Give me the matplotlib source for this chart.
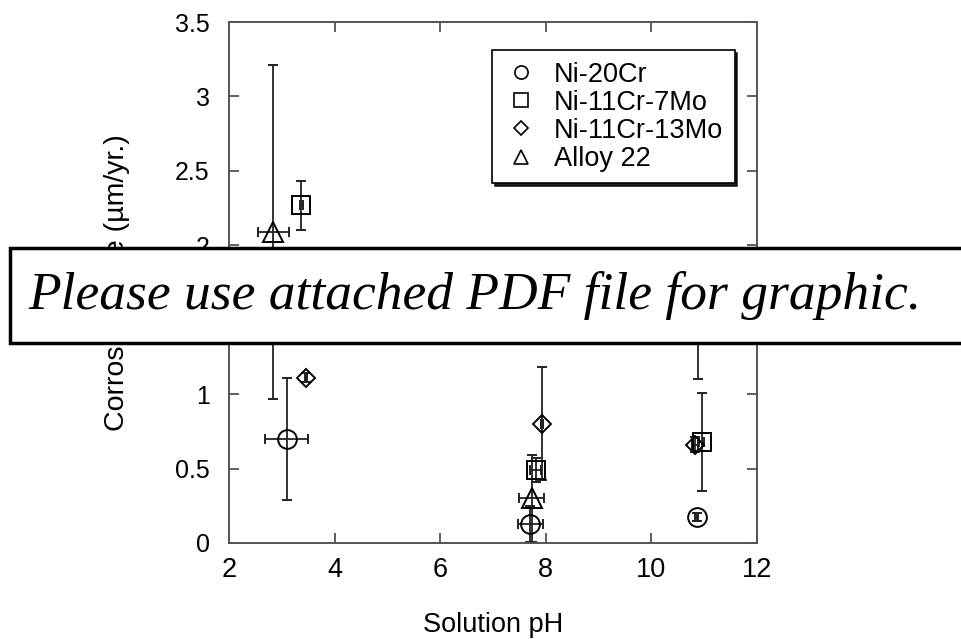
import matplotlib
import matplotlib.pyplot as plt
from matplotlib.lines import Line2D
from matplotlib.patches import Rectangle

matplotlib.use("Agg")

plt.rcParams["font.family"] = ["Liberation Sans", "DejaVu Sans"]

# Corrosion rate vs. solution pH, one set of arrays per alloy
ni20cr_ph = [3.09, 7.71, 10.86]
ni20cr_ph_err = [0.41, 0.24, 0.03]
ni20cr_rate = [0.70, 0.13, 0.175]
ni20cr_rate_err = [0.41, 0.12, 0.025]

ni11cr7mo_ph = [3.37, 7.81, 10.95]
ni11cr7mo_ph_err = [0.03, 0.10, 0.04]
ni11cr7mo_rate = [2.27, 0.49, 0.68]
ni11cr7mo_rate_err = [0.165, 0.08, 0.33]

ni11cr13mo_ph = [3.45, 7.92, 10.83]
ni11cr13mo_ph_err = [0.02, 0.02, 0.06]
ni11cr13mo_rate = [1.11, 0.80, 0.66]
ni11cr13mo_rate_err = [0.03, 0.38, 0.05]

alloy22_ph = [2.84, 7.73, 10.88]
alloy22_ph_err = [0.30, 0.24, 0.05]
alloy22_rate = [2.09, 0.30, 1.50]
alloy22_rate_err = [1.12, 0.29, 0.40]

series_names = ["Ni-20Cr", "Ni-11Cr-7Mo", "Ni-11Cr-13Mo", "Alloy 22"]
x_ticks = [2, 4, 6, 8, 10, 12]
y_ticks = [0, 0.5, 1, 1.5, 2, 2.5, 3, 3.5]
y_tick_labels = ["0", "0.5", "1", "1.5", "2", "2.5", "3", "3.5"]

W, H = 961, 639
fig = plt.figure(figsize=(W / 100, H / 100), dpi=100)
ax = fig.add_axes([229 / W, 1 - 543 / H, (757 - 229) / W, (543 - 22) / H])

series = [
    (ni20cr_ph, ni20cr_ph_err, ni20cr_rate, ni20cr_rate_err, "o", 13.5),
    (ni11cr7mo_ph, ni11cr7mo_ph_err, ni11cr7mo_rate, ni11cr7mo_rate_err, "s", 13),
    (ni11cr13mo_ph, ni11cr13mo_ph_err, ni11cr13mo_rate, ni11cr13mo_rate_err, "D", 9.5),
    (alloy22_ph, alloy22_ph_err, alloy22_rate, alloy22_rate_err, "^", 15),
]
for ph, ph_err, rate, rate_err, mk, ms in series:
    ax.errorbar(
        ph, rate, xerr=ph_err, yerr=rate_err, fmt=mk, ms=ms,
        mfc="none", mec="black", mew=1.4, ecolor="#222222",
        elinewidth=1.3, capsize=3.5, capthick=1.3,
    )

ax.set_xlim(2, 12)
ax.set_ylim(0, 3.5)
ax.set_xticks(x_ticks)
ax.set_yticks(y_ticks)
ax.set_yticklabels(y_tick_labels)
ax.tick_params(direction="in", length=7, width=1.2,
               top=True, right=True, colors="#444444", labelcolor="black")
ax.tick_params(axis="x", pad=10, labelsize=19.5)
ax.tick_params(axis="y", pad=14, labelsize=18)
for sp in ax.spines.values():
    sp.set_color("#555555")
    sp.set_linewidth(1.4)

ax.set_xlabel("Solution pH", fontsize=19.5, labelpad=21)
ax.set_ylabel("Corrosion Rate (\u00b5m/yr.)", fontsize=20.5, labelpad=32)

# legend with smaller marker glyphs than the data points
handles = [
    Line2D([], [], ls="none", marker="o", ms=9.5, mfc="none", mec="black", mew=1.2),
    Line2D([], [], ls="none", marker="s", ms=9.5, mfc="none", mec="black", mew=1.2),
    Line2D([], [], ls="none", marker="D", ms=7, mfc="none", mec="black", mew=1.2),
    Line2D([], [], ls="none", marker="^", ms=10.5, mfc="none", mec="black", mew=1.2),
]
leg = ax.legend(handles, series_names, loc="upper left",
                bbox_to_anchor=(0.499, 0.946), borderaxespad=0,
                fontsize=19.5, frameon=True, fancybox=False,
                shadow={"color": "black", "alpha": 0.85},
                edgecolor="black", framealpha=1, handlelength=1.3,
                handletextpad=0.55, labelspacing=0.08, borderpad=0.42)
leg.get_frame().set_linewidth(1.2)

# notice box laid over the plot
fig.patches.append(Rectangle((10 / W, 1 - 343 / H), 1.0, (343 - 248) / H,
                             transform=fig.transFigure, facecolor="white",
                             edgecolor="black", linewidth=2.5, zorder=10))
fig.text(28 / W, 1 - 296 / H, "Please use attached PDF file for graphic.",
         family="Liberation Serif", style="italic", fontsize=38.5,
         ha="left", va="center", zorder=11)

fig.savefig("out.png", dpi=100)
